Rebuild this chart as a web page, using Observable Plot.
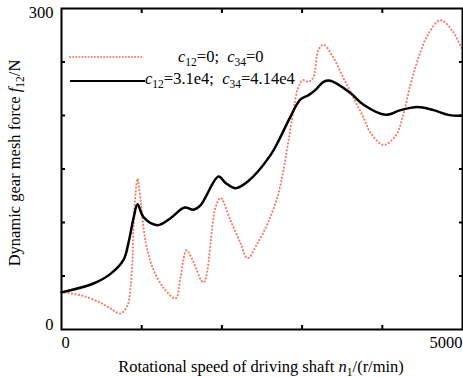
<!DOCTYPE html>
<html><head><meta charset="utf-8">
<script src="https://cdn.jsdelivr.net/npm/d3@7"></script>
<script src="https://cdn.jsdelivr.net/npm/@observablehq/plot@0.6"></script>
<style>body{margin:0;background:#fff;} #c{width:463px;height:377px;}</style>
</head><body><div id="c"></div>
<script>
// Undamped (c12=0; c34=0) — red dotted
const speedUndamped = [0,237,486,611,736,823,860,885,898,923,948,985,1047,1135,1272,1422,1484,1559,1634,1771,1920,1983,2107,2232,2319,2444,2569,2693,2768,2831,2893,2943,3005,3080,3142,3205,3267,3392,3516,3641,3766,3853,4015,4165,4252,4352,4452,4564,4726,4876,5000];
const forceUndamped = [34.7,32,25,19.7,15,22.5,39,65,96,127,141,121,83,58,39,29,49,74,65,44,114,123,102,80.6,66.6,80.6,99,124,149,177,205,224,233,231.5,236,261.6,266,254,235,216.6,198,184,172.5,181,198,229,254,275,289,279,260.6];
// Damped (c12=3.1e4; c34=4.14e4) — black solid
const speedDamped = [0,399,611,773,835,898,948,1022,1197,1359,1534,1646,1733,1958,2045,2170,2319,2606,2731,2855,2980,3080,3167,3267,3354,3603,3766,4040,4227,4439,4638,4825,5000];
const forceDamped = [34.7,43,52,65,81,104,117,105,97.5,104,114,112,116,143,137,132,138,163,180,199,215,219,224,231.5,232.5,221,210,200.6,205,208,205,200.6,199.7];
const xMinorTicks = [1000,2000,3000,4000];
const yMinorTicks = [50,100,150,200,250];
const xLabelTicks = [0,5000];
const yLabelTicks = [0,300];

const undamped = speedUndamped.map((x,i)=>({x, y: forceUndamped[i]}));
const damped = speedDamped.map((x,i)=>({x, y: forceDamped[i]}));

const fmt = d => String(d);
const tickStyle = {tickSize:-4, tickFormat:()=>"", label:null, strokeWidth:2};
const plot = Plot.plot({
  width:463, height:377, marginLeft:61, marginRight:1, marginTop:8, marginBottom:48,
  style:{fontFamily:"'Liberation Serif', 'Times New Roman', serif", fontSize:"16.5px", background:"#fff", color:"#000"},
  x:{domain:[0,5000]}, y:{domain:[0,300]},
  marks:[
    Plot.line(undamped, {x:"x", y:"y", stroke:"#f3806c", strokeWidth:2.2, strokeDasharray:"0.1,3.4", strokeLinecap:"round", curve:"catmull-rom"}),
    Plot.line(damped, {x:"x", y:"y", stroke:"#000", strokeWidth:2.5, curve:"catmull-rom"}),
    Plot.axisX({anchor:"bottom", ticks:xMinorTicks, ...tickStyle}),
    Plot.axisX({anchor:"top", ticks:xMinorTicks, ...tickStyle}),
    Plot.axisY({anchor:"left", ticks:yMinorTicks, ...tickStyle}),
    Plot.axisY({anchor:"right", ticks:yMinorTicks, ...tickStyle}),
    Plot.axisX({anchor:"bottom", ticks:[xLabelTicks[0]], tickFormat:fmt, tickSize:0, tickPadding:7, textAnchor:"start", label:null}),
    Plot.axisX({anchor:"bottom", ticks:[xLabelTicks[1]], tickFormat:fmt, tickSize:0, tickPadding:7, textAnchor:"end", label:null}),
    Plot.axisY({anchor:"left", ticks:[yLabelTicks[0]], tickFormat:fmt, tickSize:0, tickPadding:8, dy:-5, label:null}),
    Plot.axisY({anchor:"left", ticks:[yLabelTicks[1]], tickFormat:fmt, tickSize:0, tickPadding:8, dy:4, label:null}),
    Plot.frame({stroke:"#000", strokeWidth:2})
  ]
});
document.getElementById("c").appendChild(plot);

const svg = d3.select(plot);
const F = "'Liberation Serif', 'Times New Roman', serif";
function rich(g, parts, attrs){
  const t = g.append("text").attr("font-family", F).attr("font-size", 16.5).attr("fill", "#000").attr("text-anchor","start");
  for (const k in attrs) t.attr(k, attrs[k]);
  for (const p of parts){
    const s = t.append("tspan").text(p.t);
    if (p.i) s.attr("font-style","italic");
    if (p.sub) s.attr("font-size", 11.5).attr("dy", 4);
    if (p.up) s.attr("dy", -4);
  }
  return t;
}
const g = svg.append("g");
// legend
g.append("line").attr("x1",70).attr("x2",143).attr("y1",57).attr("y2",57)
  .attr("stroke","#f3806c").attr("stroke-width",2).attr("stroke-dasharray","0.1,3").attr("stroke-linecap","round");
g.append("line").attr("x1",70).attr("x2",145).attr("y1",81).attr("y2",81)
  .attr("stroke","#000").attr("stroke-width",2);
rich(g, [{t:"c",i:true},{t:"12",sub:true},{t:"=0;  ",up:true},{t:"c",i:true},{t:"34",sub:true},{t:"=0",up:true}], {x:178, y:62, "xml:space":"preserve"});
rich(g, [{t:"c",i:true},{t:"12",sub:true},{t:"=3.1e4;  ",up:true},{t:"c",i:true},{t:"34",sub:true},{t:"=4.14e4",up:true}], {x:145, y:84, "xml:space":"preserve"});
// axis titles
rich(g, [{t:"Rotational speed of driving shaft "},{t:"n",i:true},{t:"1",sub:true},{t:"/(r/min)",up:true}], {x:261, y:372, "text-anchor":"middle"});
rich(g, [{t:"Dynamic gear mesh force "},{t:"f",i:true},{t:"12",sub:true},{t:"/N",up:true}], {transform:"translate(20,163) rotate(-90)", "text-anchor":"middle"});
</script>
</body></html>
